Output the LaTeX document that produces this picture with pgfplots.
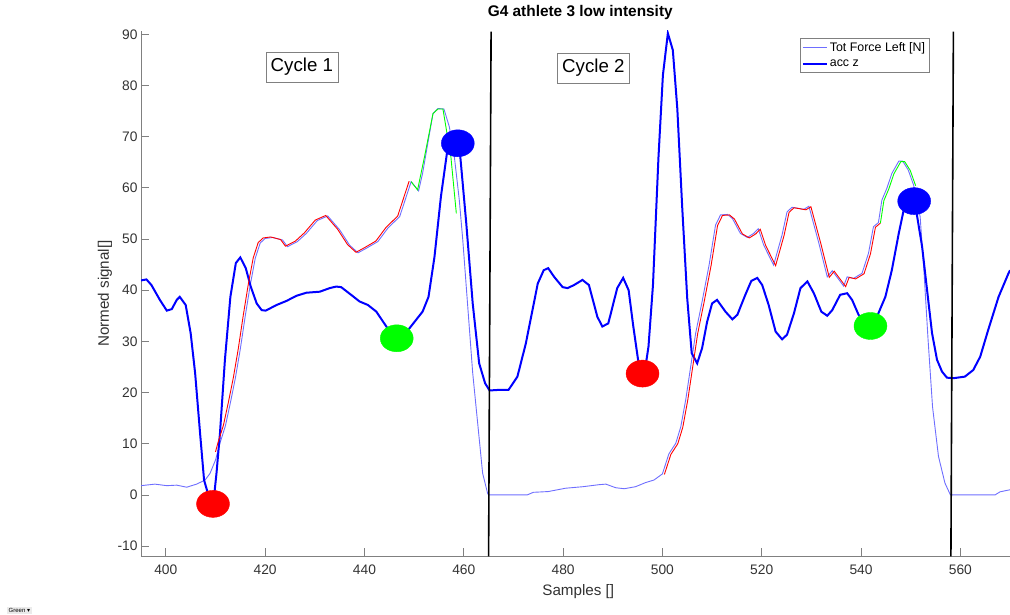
\documentclass[border=0pt]{standalone}
\usepackage{fontspec}
\setmainfont{Liberation Sans}
\newfontfamily\dejavu{DejaVu Sans}
\usepackage{pgfplots}
\pgfplotsset{compat=1.18}

\definecolor{forceblue}{RGB}{110,110,255}
\definecolor{mblue}{RGB}{0,0,255}
\definecolor{mred}{RGB}{255,0,0}
\definecolor{mgreen}{RGB}{0,255,0}
\definecolor{axgray}{RGB}{128,128,128}
\definecolor{lblgray}{RGB}{50,50,50}

\begin{document}
\begin{tikzpicture}
\useasboundingbox (0,0) rectangle (1010pt,615pt);
\clip (0,0) rectangle (1010pt,615pt);
\begin{axis}[
    at={(141pt,58.7pt)}, anchor=south west,
    scale only axis, width=869pt, height=525.6pt,
    xmin=395, xmax=570, ymin=-12, ymax=90.7,
    axis x line=bottom, axis y line=left,
    axis line style={-, draw=axgray, line width=0.7pt},
    tick align=inside, major tick length=8pt,
    tick style={axgray, line width=0.7pt},
    xtick={400,420,...,560}, ytick={-10,0,...,90},
    ticklabel style={font=\fontsize{13.8}{16}\selectfont, text=lblgray},
    /pgf/number format/assume math mode=true,
    xticklabel style={yshift=-5pt},
    xlabel={Samples []}, ylabel={Normed signal[]},
    label style={font=\fontsize{15.2}{18}\selectfont, text=lblgray},
    xlabel style={at={(axis description cs:0.5032,-0.0674)}, anchor=center},
    ylabel style={at={(axis description cs:-0.0414,0.5)}, anchor=center},
    title={G4 athlete 3 low intensity},
    title style={font=\bfseries\fontsize{15.4}{18}\selectfont,
        at={(axis description cs:0.5055,1.0152)}, anchor=base},
    legend style={at={(rel axis cs:0.907,0.9867)}, anchor=north east,
        draw=axgray, fill=white, font=\fontsize{12.4}{14}\selectfont,
        inner xsep=2pt, inner ysep=2.5pt, row sep=3pt, cells={anchor=west}},
    legend image code/.code={\draw[#1] (0pt,0pt) -- (24pt,0pt);},
]
% force
\addplot[forceblue, line width=0.9pt] coordinates {
 (395,1.8) (397.8,2.1) (400.2,1.8) (402.2,1.9) (404.2,1.5) (406.2,2.1)
 (407.9,2.9) (408.9,4.2) (410,6.8) (410.9,10.1) (412,13.5) (413,18)
 (414,22.8) (415,28.5) (416,35) (417,41) (418,46.2) (419,49.2) (420,50.1)
 (421.5,50.3) (423.5,49.8) (424.5,48.5) (426.5,49.5) (428.3,51.1)
 (430.5,53.6) (432.6,54.5) (435,51.8) (437,48.8) (438.7,47.3) (440.4,48.2)
 (442.7,49.5) (444.7,52.1) (447.1,54.4) (449.4,61.2) (450.9,59.4)
 (451.7,62.8) (453.8,74.5) (454.8,75.5) (456,75.4) (457.1,71.9)
 (458.1,66.1) (459.1,57.6) (459.8,49.8) (460.8,36.8) (461.8,23.8)
 (462.8,14.0) (463.8,4.2) (464.8,0.3) (465,0) (472.8,0) (474,0.5)
 (477,0.65) (480.5,1.3) (484,1.6) (487.3,2.0) (488.6,2.1) (490.6,1.4)
 (492.3,1.2) (494.6,1.6) (496.6,2.4) (498.3,2.9) (500,4.1) (501.3,8.0)
 (502.7,10.1) (503.7,13.3) (504.7,18.6) (505.7,25.1) (506.7,31.6)
 (508,37.8) (509.4,44.9) (510.7,52.7) (511.7,54.7) (513.1,54.8)
 (514.1,54.0) (515.7,51.1) (517.1,50.3) (518.4,51.1) (519.3,52.0)
 (520.4,48.8) (522.4,44.9) (524.1,50.8) (525.1,55.3) (526.1,56.2)
 (528.5,55.8) (529.5,56.4) (531.5,49.2) (533.2,42.6) (534.2,43.8)
 (536.5,40.8) (537.2,42.6) (538.5,42.3) (540.2,43.3) (541.5,47.2)
 (542.5,52.4) (543.5,53.2) (544.2,57.6) (545.2,59.9) (546.2,62.8)
 (547.6,65.2) (548.4,65.2) (549.5,63.5) (550.6,60.5) (551.9,54.4)
 (552.7,43.3) (553.5,30.3) (554.4,17.2) (555.6,7.5) (556.9,2.3) (558,0)
 (567,0) (568,0.6) (570,1.0)
};
\addlegendentry{Tot Force Left [N]}
% acc z
\addplot[mblue, line width=2pt] coordinates {
 (395,41.9) (396.1,42.1) (397.1,41.0) (398.8,38.1) (400.2,36.0)
 (401.2,36.3) (402.2,38.1) (402.8,38.7) (404,37.1) (405,31.6) (405.9,23.8)
 (406.9,12) (407.7,2.9) (408.5,0.2) (409.3,-1.0) (409.8,0.5) (410.2,4.2)
 (410.9,12) (411.9,26.4) (413,38.7) (414.1,45.3) (415,46.4) (416.1,44.3)
 (417.1,40.7) (418.3,37.4) (419.3,36.1) (420.1,36.0) (422.3,37.1)
 (424.3,37.9) (426.3,38.9) (428.3,39.5) (431,39.7) (433,40.4) (434.3,40.7)
 (435.3,40.6) (437.3,39.1) (439,37.8) (440.7,37.1) (442.4,35.8)
 (444.4,32.9) (446.4,30.0) (449.1,32.6) (451.7,35.8) (452.9,38.7)
 (454.1,46.5) (455.4,58.3) (456.6,66.7) (458,70) (459.3,66.1) (460.5,53.1)
 (461.8,37.4) (463.1,25.7) (464.3,21.8) (465.2,20.4) (466.8,20.5)
 (469,20.5) (470.8,23.1) (472.5,29.6) (474.9,41.3) (476.1,43.9) (477,44.3)
 (478.2,42.6) (479.9,40.6) (480.9,40.4) (482.2,41.0) (483.9,42.0)
 (485.2,41.0) (486.9,34.8) (487.9,32.9) (489.1,33.5) (490.9,40.4)
 (492.1,42.4) (493.2,40.0) (494.1,33.2) (495.1,26.4) (496,23.5)
 (496.8,26.4) (497.2,29.0) (498.1,41.0) (499.2,65.8) (500.1,82.0)
 (501.1,90.2) (502.1,86.9) (503,75.5) (504,56.0) (505,38.4) (505.9,27.7)
 (507,25.7) (508,28.7) (509,33.8) (510,37.4) (511,38.1) (512.7,35.8)
 (514.1,34.3) (515.1,35.2) (516.7,39.1) (517.9,41.8) (519.1,42.4)
 (520.1,41.0) (521.4,37.1) (522.8,31.9) (524.1,30.4) (525.1,31.3)
 (526.5,35.5) (527.8,40.4) (529.2,41.7) (530.5,39.4) (532,35.8)
 (533.2,35.0) (534.2,36.1) (535.8,39.1) (537.2,39.4) (538.2,38.1)
 (539.5,35.2) (541.9,32.5) (543.5,35.5) (544.9,38.7) (546.2,43.9)
 (547.6,51.1) (548.6,55.7) (550.5,58.5) (551.2,55.0) (552.3,48.5)
 (553.3,40.0) (554.3,31.6) (555.3,26.4) (556.3,24.1) (557.3,22.9)
 (558.6,22.8) (560.9,23.1) (562.6,24.4) (564,27.0) (565.6,32.2)
 (567.7,38.7) (569.7,43.3) (570,43.9)
};
\addlegendentry{acc z}
% cycle 1 overlays
\addplot[mred, line width=0.9pt, xshift=-2pt, yshift=0.5pt, forget plot] coordinates {
 (410.4,8.3) (410.9,10.1) (412,13.5) (413,18) (414,22.8) (415,28.5)
 (416,35) (417,41) (418,46.2) (419,49.2) (420,50.1) (421.5,50.3)
 (423.5,49.8) (424.5,48.5) (426.5,49.5) (428.3,51.1) (430.5,53.6)
 (432.6,54.5) (435,51.8) (437,48.8) (438.7,47.3) (440.4,48.2) (442.7,49.5)
 (444.7,52.1) (447.1,54.4) (449.4,61.2)
};
\addplot[mgreen, line width=0.9pt, forget plot] coordinates {
 (449.4,61.2) (450.7,59.6) (452.1,66.1) (453.8,74.5) (454.8,75.4)
 (455.8,75.4) (457.4,66.1) (458.5,55.0)
};
% cycle 2 overlays
\addplot[mred, line width=0.9pt, xshift=2pt, yshift=-0.5pt, forget plot] coordinates {
 (500,4.1) (501.3,8.0) (502.7,10.1) (503.7,13.3) (504.7,18.6) (505.7,25.1)
 (506.7,31.6) (508,37.8) (509.4,44.9) (510.7,52.7) (511.7,54.7)
 (513.1,54.8) (514.1,54.0) (515.7,51.1) (517.1,50.3) (518.4,51.1)
 (519.3,52.0) (520.4,48.8) (522.4,44.9) (524.1,50.8) (525.1,55.3)
 (526.1,56.2) (528.5,55.8) (529.5,56.4) (531.5,49.2) (533.2,42.6)
 (534.2,43.8) (536.5,40.8) (537.2,42.6) (538.5,42.3) (540.2,43.3)
 (541.5,47.2) (542.5,52.4) (543.5,53.2)
};
\addplot[mgreen, line width=0.9pt, xshift=2pt, yshift=-0.5pt, forget plot] coordinates {
 (543.5,53.2) (544.2,57.6) (545.2,59.9) (546.2,62.8) (547.6,65.2)
 (548.4,65.2) (549.5,63.5) (550.6,60.5)
};
% cycle boundaries
\addplot[black, line width=1.6pt, forget plot] coordinates {(465.0,-12) (465.5,90.5)};
\addplot[black, line width=1.6pt, forget plot] coordinates {(558.1,-12) (558.6,90.5)};
% events
\addplot[mred, only marks, mark=*, mark size=13.5pt, forget plot,
    mark options={xscale=1.22, draw=mred, fill=mred}] coordinates {(409.5,-1.76) (496,23.7)};
\addplot[mgreen, only marks, mark=*, mark size=13.5pt, forget plot,
    mark options={xscale=1.22, draw=mgreen, fill=mgreen}] coordinates {(446.5,30.6) (541.9,33.0)};
\addplot[mblue, only marks, mark=*, mark size=13.5pt, forget plot,
    mark options={xscale=1.22, draw=mblue, fill=mblue}] coordinates {(458.8,68.7) (550.7,57.4)};
\node[draw=axgray, fill=white, font=\fontsize{18.7}{22}\selectfont,
    inner xsep=5pt, inner ysep=6.5pt] at (axis cs:427.4,83.6) {Cycle 1};
\node[draw=axgray, fill=white, font=\fontsize{18.7}{22}\selectfont,
    inner xsep=5pt, inner ysep=6.5pt] at (axis cs:486.1,83.4) {Cycle 2};
\end{axis}
\node[fill=black!8, font=\fontsize{6}{7}\selectfont, inner sep=1.5pt, anchor=south west]
    at (7pt,1pt) {Green {\dejavu ▾}};
\end{tikzpicture}
\end{document}
